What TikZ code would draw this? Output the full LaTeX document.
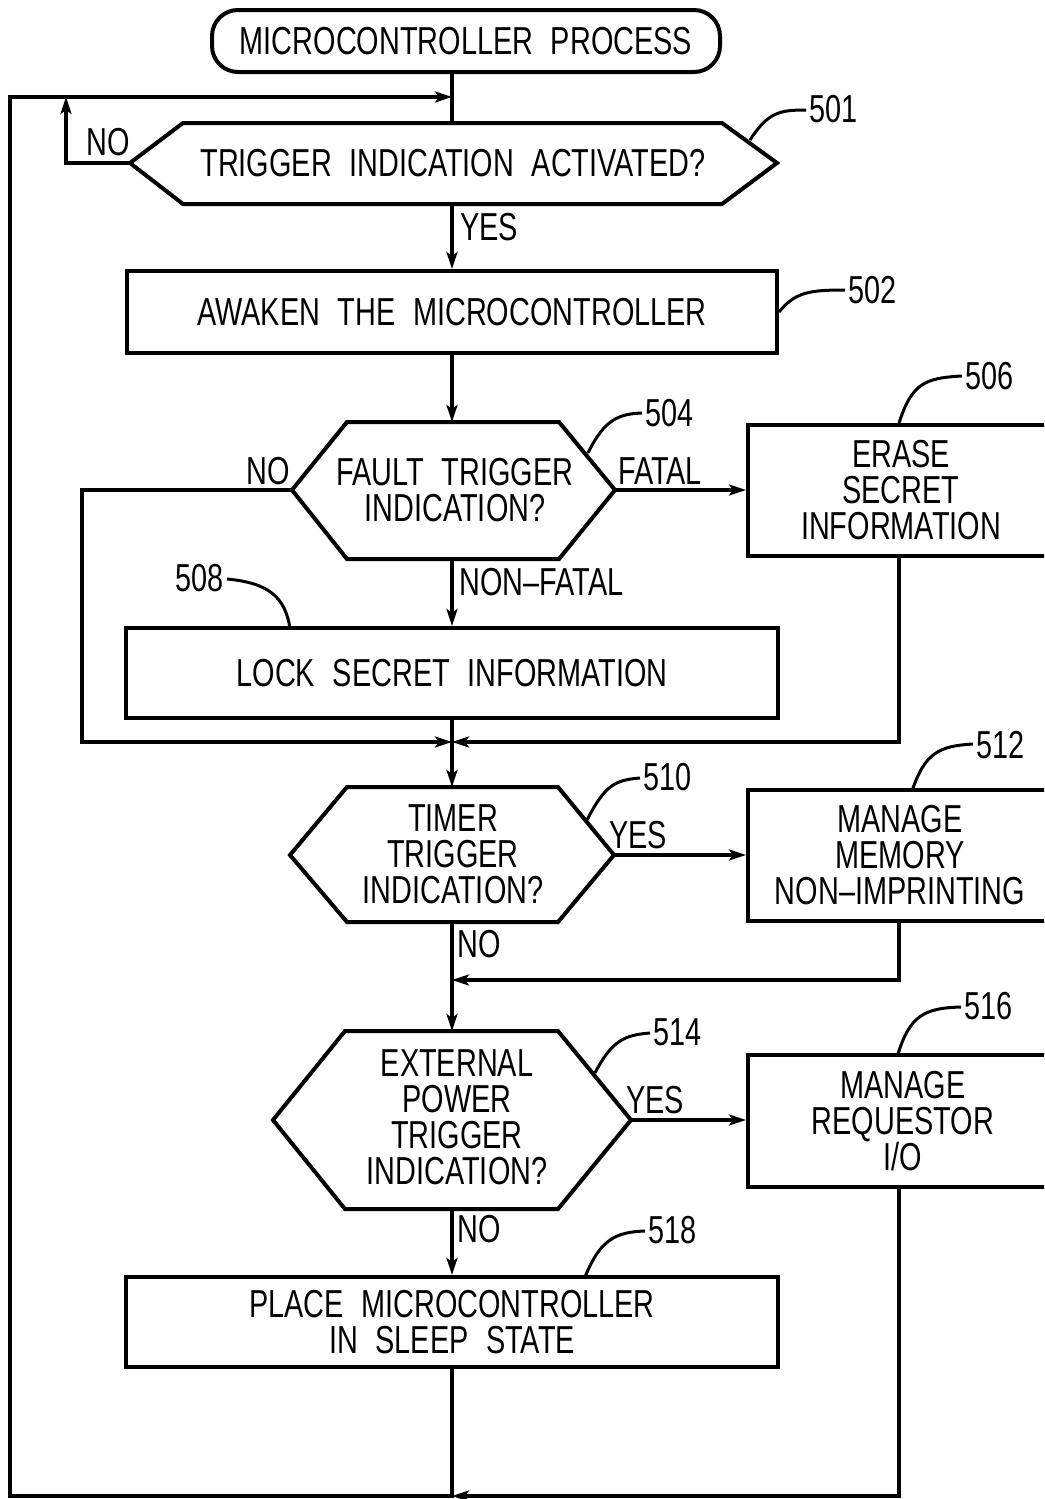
\documentclass[tikz,border=0pt]{standalone}
\usepackage{fontspec}
\setmainfont{Liberation Sans}[FakeStretch=0.74, WordSpace=2.2]
\usetikzlibrary{arrows.meta}
\newcommand\fsz{\fontsize{39}{36}\selectfont}
\begin{document}
\begin{tikzpicture}[x=1pt,y=-1pt,
  box/.style={draw, line width=4pt, inner sep=0pt, align=center, font=\fsz},
  txt/.style={inner sep=0pt, align=center, font=\fsz},
  flow/.style={line width=4pt},
  arr/.style={-{Stealth[length=17pt,width=11pt,inset=4pt]}},
  lead/.style={line width=3pt}]
\useasboundingbox (0,0) rectangle (1044,1499);
\clip (0,0) rectangle (1044,1499);
% terminal
\node[box, rounded corners=26pt, minimum width=508pt, minimum height=62pt] (start) at (466,41) {MICROCONTROLLER PROCESS};
% hexagon 501
\coordinate (h1L) at (130,163); \coordinate (h1R) at (777,163);
\coordinate (h1T) at (452,123); \coordinate (h1B) at (452,204);
\draw[flow] (183,123) -- (722,123) -- (h1R) -- (722,204) -- (183,204) -- (h1L) -- cycle;
\node[txt] (t501) at (453,163) {TRIGGER INDICATION ACTIVATED?};
% box 502
\node[box, minimum width=650pt, minimum height=82pt] (b502) at (452,312) {AWAKEN THE MICROCONTROLLER};
% hexagon 504
\coordinate (h4L) at (292,490); \coordinate (h4R) at (615,490);
\coordinate (h4T) at (452,422); \coordinate (h4B) at (452,559);
\draw[flow] (347,422) -- (559,422) -- (h4R) -- (559,559) -- (347,559) -- (h4L) -- cycle;
\node[txt] (t504) at (455,490) {FAULT TRIGGER\\INDICATION?};
% box 506
\node[box, minimum width=302pt, minimum height=131pt] (b506) at (899,490.5) {};
\node[txt] (t506) at (901,490.5) {ERASE\\SECRET\\INFORMATION};
% box 508
\node[box, minimum width=652pt, minimum height=90pt] (b508) at (452,673) {LOCK SECRET INFORMATION};
% hexagon 510
\coordinate (h5L) at (290,855); \coordinate (h5R) at (614,855);
\coordinate (h5T) at (452,787); \coordinate (h5B) at (452,922);
\draw[flow] (347,787) -- (558,787) -- (h5R) -- (558,922) -- (347,922) -- (h5L) -- cycle;
\node[txt] (t510) at (453,854) {TIMER\\TRIGGER\\INDICATION?};
% box 512
\node[box, minimum width=302pt, minimum height=131pt] (b512) at (899,855.5) {};
\node[txt] (t512) at (900,855.5) {MANAGE\\MEMORY\\NON\textendash IMPRINTING};
% hexagon 514
\coordinate (h6L) at (273,1120); \coordinate (h6R) at (631,1120);
\coordinate (h6T) at (452,1031); \coordinate (h6B) at (452,1209);
\draw[flow] (345,1031) -- (558,1031) -- (h6R) -- (558,1209) -- (345,1209) -- (h6L) -- cycle;
\node[txt] (t514) at (457,1117) {EXTERNAL\\POWER\\TRIGGER\\INDICATION?};
% box 516
\node[box, minimum width=302pt, minimum height=132pt] (b516) at (899,1121) {};
\node[txt] (t516) at (903,1121) {MANAGE\\REQUESTOR\\I/O};
% box 518
\node[box, minimum width=652pt, minimum height=90pt] (b518) at (452,1322) {PLACE MICROCONTROLLER\\IN SLEEP STATE};
% junction coordinates
\coordinate (top) at (452,97);
\coordinate (lTop) at (10,97);
\coordinate (lBot) at (10,1496);
\coordinate (m1) at (452,742);
\coordinate (m2) at (452,980);
\coordinate (m3) at (452,1496);
% connectors
\draw[flow] (start.south -| h1T) -- (h1T);
\draw[flow,arr] (h1L) -- (66,163) -- (66,97);
\draw[flow,arr] (h1B) -- (b502.north);
\draw[flow,arr] (b502.south) -- (h4T);
\draw[flow,arr] (h4R) -- (h4R -| b506.west);
\draw[flow,arr] (h4L) -- (82,490) -- (82,742) -- (m1);
\draw[flow,arr] (b506.south) -- (b506.south |- m1) -- (m1);
\draw[flow,arr] (h4B) -- (b508.north);
\draw[flow,arr] (b508.south) -- (h5T);
\draw[flow,arr] (h5R) -- (h5R -| b512.west);
\draw[flow,arr] (b512.south) -- (b512.south |- m2) -- (m2);
\draw[flow,arr] (h5B) -- (h6T);
\draw[flow,arr] (h6R) -- (h6R -| b516.west);
\draw[flow,arr] (b516.south) -- (b516.south |- m3) -- (m3);
\draw[flow,arr] (h6B) -- (b518.north);
\draw[flow,arr] (b518.south) -- (m3) -- (lBot) -- (lTop) -- (top);
% branch labels
\node[txt] (no1) at (108,142) {NO};
\node[txt, anchor=west] (yes1) at (460,227) {YES};
\node[txt] (no4) at (268,471) {NO};
\node[txt] (fatal) at (660,471) {FATAL};
\node[txt, anchor=west] (nonfatal) at (459,582) {NON\textendash FATAL};
\node[txt] (yes5) at (638,835) {YES};
\node[txt, anchor=west] (no5) at (457,944) {NO};
\node[txt] (yes6) at (655,1100) {YES};
\node[txt, anchor=west] (no6) at (457,1229) {NO};
% reference numerals with leaders
\draw[lead] (750,140) .. controls (768,112) and (780,110) .. (806,110);
\node[txt, anchor=west] (n501) at (809,109) {501};
\draw[lead] (779,312) .. controls (795,292) and (810,290) .. (845,290);
\node[txt, anchor=west] (n502) at (848,290) {502};
\draw[lead] (588,453) .. controls (605,418) and (620,414) .. (642,413);
\node[txt, anchor=west] (n504) at (645,413) {504};
\draw[lead] (899,423) .. controls (912,383) and (925,378) .. (962,376);
\node[txt, anchor=west] (n506) at (965,376) {506};
\draw[lead] (227,579) .. controls (270,583) and (285,598) .. (290,628);
\node[txt, anchor=east] (n508) at (224,578) {508};
\draw[lead] (587,820) .. controls (605,785) and (615,780) .. (640,778);
\node[txt, anchor=west] (n510) at (643,777) {510};
\draw[lead] (912,791) .. controls (925,752) and (940,746) .. (973,744);
\node[txt, anchor=west] (n512) at (976,745) {512};
\draw[lead] (595,1073) .. controls (612,1040) and (625,1035) .. (650,1033);
\node[txt, anchor=west] (n514) at (653,1032) {514};
\draw[lead] (898,1054) .. controls (910,1015) and (925,1008) .. (961,1007);
\node[txt, anchor=west] (n516) at (964,1006) {516};
\draw[lead] (585,1277) .. controls (600,1240) and (615,1232) .. (645,1231);
\node[txt, anchor=west] (n518) at (648,1230) {518};
\end{tikzpicture}
\end{document}
